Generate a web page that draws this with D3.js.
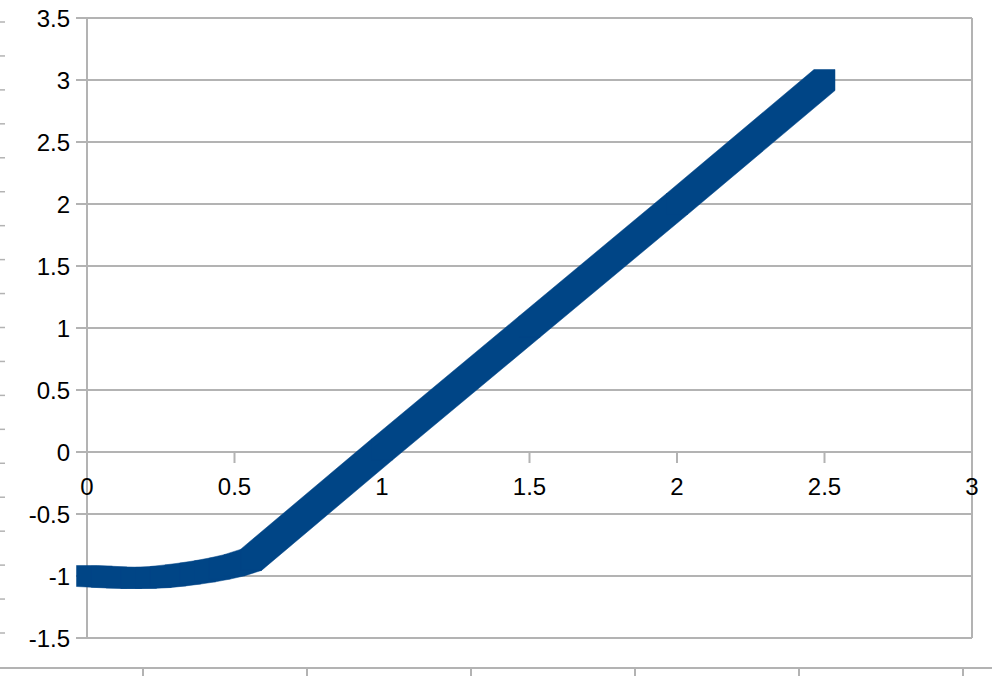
<!DOCTYPE html>
<html>
<head>
<meta charset="utf-8">
<script src="https://cdn.jsdelivr.net/npm/d3@7"></script>
<style>
  body { margin: 0; background: #fff; }
  svg { display: block; }
  text { font-family: "Liberation Sans", Arial, sans-serif; font-size: 24px; fill: #000; }
</style>
</head>
<body>
<svg id="chart" width="992" height="676"></svg>
<script>
// data
const xValues = [0, 0.05, 0.1, 0.15, 0.2, 0.25, 0.3, 0.35, 0.4, 0.45, 0.5, 0.556, 1, 1.5, 2, 2.5];
const yValues = [-1, -1.006, -1.012, -1.016, -1.015, -1.008, -0.995, -0.98, -0.962, -0.94, -0.913, -0.87, 0.02, 1.01, 2.0, 3];
const xTicks = [0, 0.5, 1, 1.5, 2, 2.5, 3];
const yTicks = [-1.5, -1, -0.5, 0, 0.5, 1, 1.5, 2, 2.5, 3, 3.5];

const svg = d3.select("#chart");
const grey = "#b3b3b3";
const x = d3.scaleLinear().domain([0, 3]).range([87, 972]);
const y = d3.scaleLinear().domain([-1.5, 3.5]).range([638, 18]);
const fmt = d => String(d);

// cut-off chart lying behind (left ticks + bottom axis)
const ghostY = d3.scaleLinear().domain([0, 18]).range([22, 633]);
svg.append("g").selectAll("line").data(ghostY.ticks(18)).enter().append("line")
    .attr("x1", 0).attr("x2", 5)
    .attr("y1", d => ghostY(d)).attr("y2", d => ghostY(d))
    .attr("stroke", grey).attr("stroke-width", 1.5);
const ghostX = d3.scaleLinear().domain([0, 5]).range([143, 963]);
svg.append("line").attr("x1", 0).attr("x2", 992).attr("y1", 668).attr("y2", 668)
    .attr("stroke", grey).attr("stroke-width", 2);
svg.append("g").selectAll("line").data(ghostX.ticks(5)).enter().append("line")
    .attr("x1", d => ghostX(d)).attr("x2", d => ghostX(d))
    .attr("y1", 668).attr("y2", 676)
    .attr("stroke", grey).attr("stroke-width", 2);

// horizontal grid lines with small outside ticks
svg.append("g").selectAll("line").data(yTicks).enter().append("line")
    .attr("x1", 76).attr("x2", x(3))
    .attr("y1", d => y(d)).attr("y2", d => y(d))
    .attr("stroke", grey).attr("stroke-width", 2);

// y axis line and right border
svg.append("line").attr("x1", x(0)).attr("x2", x(0)).attr("y1", y(3.5)).attr("y2", y(-1.5))
    .attr("stroke", grey).attr("stroke-width", 2);
svg.append("line").attr("x1", x(3)).attr("x2", x(3)).attr("y1", y(3.5)).attr("y2", y(-1.5))
    .attr("stroke", grey).attr("stroke-width", 2);

// x ticks hanging from the zero line
svg.append("g").selectAll("line").data(xTicks).enter().append("line")
    .attr("x1", d => x(d)).attr("x2", d => x(d))
    .attr("y1", y(0)).attr("y2", y(0) + 11)
    .attr("stroke", grey).attr("stroke-width", 2);

// labels
svg.append("g").selectAll("text").data(yTicks).enter().append("text")
    .attr("x", 70).attr("y", d => y(d)).attr("dy", "0.36em")
    .attr("text-anchor", "end").text(fmt);
svg.append("g").selectAll("text").data(xTicks).enter().append("text")
    .attr("x", d => x(d)).attr("y", y(0) + 43)
    .attr("text-anchor", "middle").text(fmt);

// series: swept with a square pen, so each segment is the hull of two squares
const pen = 10.5;
const pts = xValues.map((v, i) => [x(v), y(yValues[i])]);
const corners = p => [[p[0] - pen, p[1] - pen], [p[0] + pen, p[1] - pen],
                      [p[0] + pen, p[1] + pen], [p[0] - pen, p[1] + pen]];
const segs = d3.pairs(pts).map(([a, b]) => d3.polygonHull(corners(a).concat(corners(b))));
svg.append("g").selectAll("path").data(segs).enter().append("path")
    .attr("d", d => "M" + d.join("L") + "Z")
    .attr("fill", "#004586").attr("stroke", "#004586").attr("stroke-width", 0.5);
</script>
</body>
</html>
